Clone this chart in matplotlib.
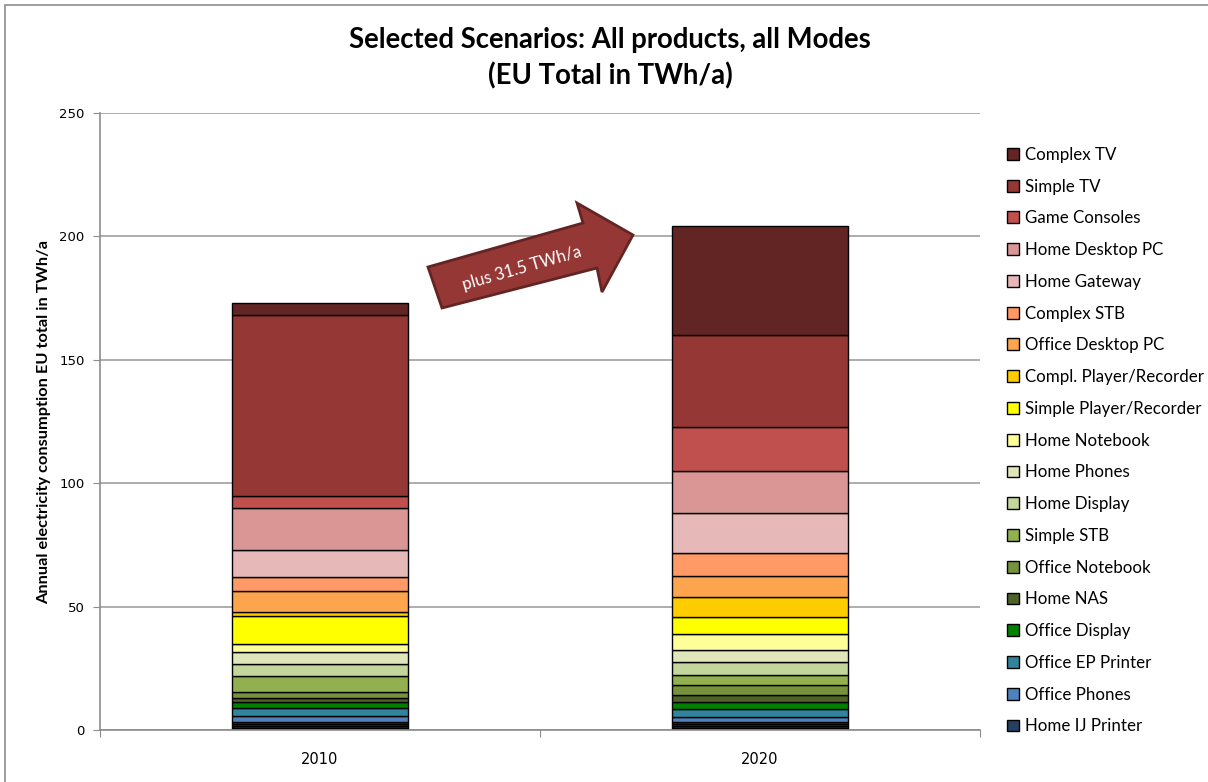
import numpy as np
import matplotlib.pyplot as plt
from matplotlib.patches import Polygon, Rectangle

years = ['2010', '2020']

# stacked from the bottom up
products = ['Home IJ Printer', 'Office Phones', 'Office EP Printer', 'Office Display',
            'Home NAS', 'Office Notebook', 'Simple STB', 'Home Display', 'Home Phones',
            'Home Notebook', 'Simple Player/Recorder', 'Compl. Player/Recorder',
            'Office Desktop PC', 'Complex STB', 'Home Gateway', 'Home Desktop PC',
            'Game Consoles', 'Simple TV', 'Complex TV']
extra = ['Office IJ Printer', 'Home Laser Printer', 'Office Laser Printer']

vals_2010 = [1.1, 2.4, 3.0, 2.5, 1.7, 2.4, 6.5, 4.8, 4.8, 3.5, 11.3, 1.5,
             8.6, 5.7, 11.0, 17.0, 4.8, 73.1, 5.1]
vals_2020 = [1.1, 2.0, 3.0, 2.9, 3.0, 4.1, 3.9, 5.1, 5.0, 6.6, 6.9, 8.1,
             8.5, 9.1, 16.2, 17.3, 17.8, 37.0, 44.3]
extra_2010 = [0.8, 0.8, 0.7]
extra_2020 = [0.8, 0.8, 0.7]

colors = ['#254061', '#4F81BD', '#31849B', '#008000', '#4F6228', '#76923C',
          '#92B050', '#C3D69B', '#E1E6BA', '#FFFF99', '#FFFF00', '#FFCC00',
          '#FDA54E', '#FF9966', '#E6B9B8', '#D99694', '#C0504D', '#953735', '#632523']
extra_colors = ['#10253F', '#17375E', '#1F3A60']

plt.rcParams['font.family'] = ['Lato', 'DejaVu Sans']

W, H = 1208, 782
fig = plt.figure(figsize=(W / 100, H / 100), dpi=100)
ax = fig.add_axes([100 / W, (H - 730) / H, 880 / W, 617 / H])

# chart frame
fig.patches.append(Rectangle((5 / W, -0.05), 1.1, 1.05 - 5 / H, transform=fig.transFigure,
                             fill=False, edgecolor='#8c8c8c', linewidth=1.2))

x = np.array([0.5, 1.5])
bottom = np.zeros(2)
for name, a, b, c in zip(extra, extra_2010, extra_2020, extra_colors):
    v = np.array([a, b])
    ax.bar(x, v, 0.4, bottom=bottom, color=c, edgecolor='black', linewidth=1, label='_nolegend_')
    bottom += v
handles = []
for name, a, b, c in zip(products, vals_2010, vals_2020, colors):
    v = np.array([a, b])
    h = ax.bar(x, v, 0.4, bottom=bottom, color=c, edgecolor='black', linewidth=1, label=name)
    handles.append(h)
    bottom += v

ax.set_ylim(0, 250)
ax.set_xlim(0, 2)
ax.set_yticks(np.arange(0, 251, 50))
ax.yaxis.grid(True, color='#a0a0a0', linewidth=1.2)
ax.set_axisbelow(True)
for s in ['top', 'right']:
    ax.spines[s].set_visible(False)
for s in ['left', 'bottom']:
    ax.spines[s].set_color('#8c8c8c')
    ax.spines[s].set_linewidth(1.2)
ax.tick_params(axis='y', length=5, color='#8c8c8c', labelsize=9.5, pad=6)
for lab in ax.get_yticklabels():
    lab.set_family('DejaVu Sans')
ax.set_xticks([0, 1, 2])
ax.set_xticklabels([])
ax.set_xticks(x, minor=True)
ax.set_xticklabels(years, minor=True, fontsize=10.5, family='DejaVu Sans')
ax.tick_params(axis='x', which='major', length=5, color='#8c8c8c')
ax.tick_params(axis='x', which='minor', length=0, pad=16)

ax.set_ylabel('Annual electricity consumption EU total in TWh/a', fontsize=11.8,
              fontweight='bold', labelpad=6)

fig.text(610 / W, 1 - 58 / H, 'Selected Scenarios: All products, all Modes\n(EU Total in TWh/a)',
         ha='center', va='center', fontsize=19.8, fontweight='bold', linespacing=1.42)

leg = fig.legend(handles[::-1], products[::-1], loc='upper left',
                 bbox_to_anchor=(1000 / W, 1 - 140 / H), frameon=False, fontsize=12.2,
                 handlelength=0.7, handleheight=0.7, handletextpad=0.4, labelspacing=0.93,
                 borderaxespad=0)

# growth arrow
pts = [(428, 267), (583, 223), (577, 203), (633, 235), (602, 292), (597, 268), (442, 308)]
fig.patches.append(Polygon([(px / W, 1 - py / H) for px, py in pts], closed=True,
                           transform=fig.transFigure, facecolor='#953735',
                           edgecolor='#632523', linewidth=2))
fig.text(522 / W, 1 - 268 / H, 'plus 31.5 TWh/a', color='white', fontsize=12,
         rotation=16, ha='center', va='center', rotation_mode='anchor')

fig.savefig('out.png', dpi=100)
